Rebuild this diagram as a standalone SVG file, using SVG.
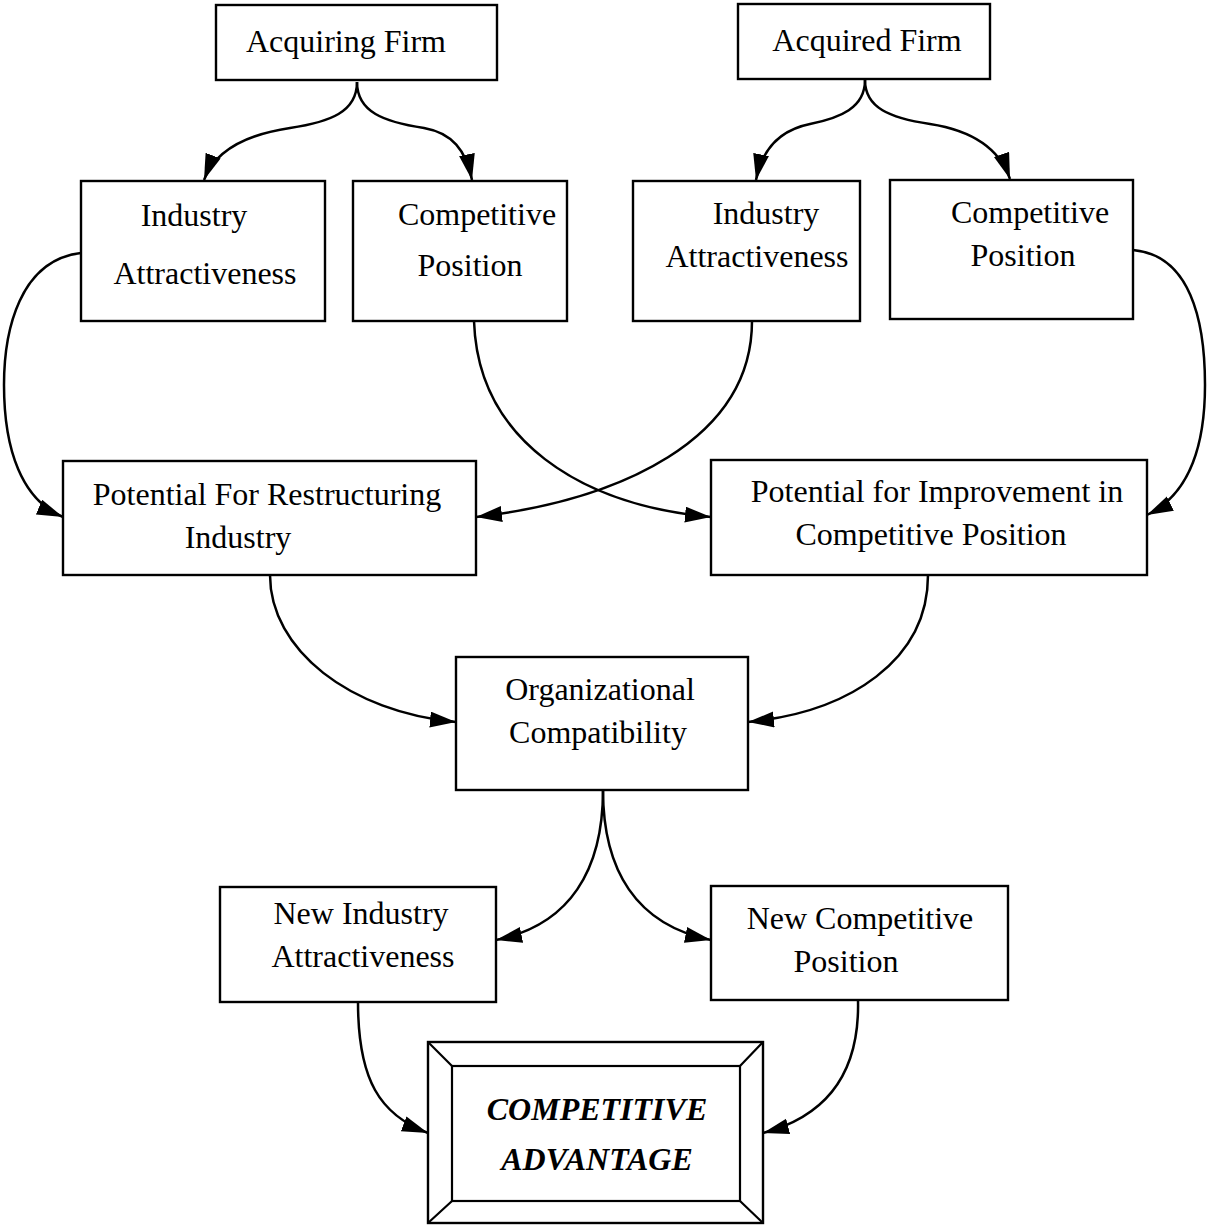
<svg xmlns="http://www.w3.org/2000/svg" width="1208" height="1226" viewBox="0 0 1208 1226">
<style>
.box{fill:#fff;stroke:#000;stroke-width:2.4}
.t{font-family:"Liberation Serif","Times New Roman",serif;font-size:32px;fill:#000;text-anchor:middle}
.b{font-weight:bold;font-style:italic}
.c{fill:none;stroke:#000;stroke-width:2.5}
.f{fill:none;stroke:#000;stroke-width:2.2}
</style>
<defs>
<marker id="ah" markerUnits="userSpaceOnUse" markerWidth="28" markerHeight="18" refX="26" refY="8" orient="auto">
<path d="M0,0 L26,8 L0,16 z" fill="#000"/>
</marker>
</defs>
<rect width="1208" height="1226" fill="#fff"/>
<g id="connectors">
<path class="c" marker-end="url(#ah)" d="M357,82 C357,112 330,122 290,128 C250,134 216,148 204,180"/>
<path class="c" marker-end="url(#ah)" d="M357,82 C357,112 384,122 424,128 C452,133 466,150 472,180"/>
<path class="c" marker-end="url(#ah)" d="M865,80 C865,108 840,118 810,124 C780,130 762,150 756,180"/>
<path class="c" marker-end="url(#ah)" d="M865,80 C865,108 890,118 930,124 C975,131 1000,150 1010,179"/>
<path class="c" marker-end="url(#ah)" d="M81,253 C20,260 4,330 4,385 C4,450 22,500 63,517"/>
<path class="c" marker-end="url(#ah)" d="M1133,250 C1190,255 1205,320 1205,385 C1205,450 1188,495 1147,515"/>
<path class="c" marker-end="url(#ah)" d="M474,321 C478,440 580,505 711,517"/>
<path class="c" marker-end="url(#ah)" d="M752,321 C752,440 620,500 476,517"/>
<path class="c" marker-end="url(#ah)" d="M270,575 C270,650 350,712 456,722"/>
<path class="c" marker-end="url(#ah)" d="M928,575 C928,660 850,712 748,722"/>
<path class="c" marker-end="url(#ah)" d="M603,790 C603,870 570,925 496,940"/>
<path class="c" marker-end="url(#ah)" d="M603,790 C603,870 636,925 711,940"/>
<path class="c" marker-end="url(#ah)" d="M358,1002 C358,1080 380,1115 428,1133"/>
<path class="c" marker-end="url(#ah)" d="M858,1000 C860,1080 820,1118 763,1133"/>
</g>
<g id="acquiring-firm">
<rect class="box" x="216" y="5" width="281" height="75"/>
<text class="t" x="346" y="52">Acquiring Firm</text>
</g>
<g id="acquired-firm">
<rect class="box" x="738" y="4" width="252" height="75"/>
<text class="t" x="867" y="51">Acquired Firm</text>
</g>
<g id="industry-attr-left">
<rect class="box" x="81" y="181" width="244" height="140"/>
<text class="t" x="194" y="226">Industry</text>
<text class="t" x="205" y="284">Attractiveness</text>
</g>
<g id="comp-pos-left">
<rect class="box" x="353" y="181" width="214" height="140"/>
<text class="t" x="477" y="225">Competitive</text>
<text class="t" x="470" y="276">Position</text>
</g>
<g id="industry-attr-right">
<rect class="box" x="633" y="181" width="227" height="140"/>
<text class="t" x="766" y="224">Industry</text>
<text class="t" x="757" y="267">Attractiveness</text>
</g>
<g id="comp-pos-right">
<rect class="box" x="890" y="180" width="243" height="139"/>
<text class="t" x="1030" y="223">Competitive</text>
<text class="t" x="1023" y="266">Position</text>
</g>
<g id="potential-restructuring">
<rect class="box" x="63" y="461" width="413" height="114"/>
<text class="t" x="267" y="505">Potential For Restructuring</text>
<text class="t" x="238" y="548">Industry</text>
</g>
<g id="potential-improvement">
<rect class="box" x="711" y="460" width="436" height="115"/>
<text class="t" x="937" y="502">Potential for Improvement in</text>
<text class="t" x="931" y="545">Competitive Position</text>
</g>
<g id="org-compat">
<rect class="box" x="456" y="657" width="292" height="133"/>
<text class="t" x="600" y="700">Organizational</text>
<text class="t" x="598" y="743">Compatibility</text>
</g>
<g id="new-industry-attr">
<rect class="box" x="220" y="887" width="276" height="115"/>
<text class="t" x="361" y="924">New Industry</text>
<text class="t" x="363" y="967">Attractiveness</text>
</g>
<g id="new-comp-pos">
<rect class="box" x="711" y="886" width="297" height="114"/>
<text class="t" x="860" y="929">New Competitive</text>
<text class="t" x="846" y="972">Position</text>
</g>
<g id="competitive-advantage">
<rect class="box" x="428" y="1042" width="335" height="181"/>
<rect class="f" x="452" y="1066" width="288" height="135"/>
<path class="f" d="M428,1042 L452,1066 M763,1042 L740,1066 M428,1223 L452,1201 M763,1223 L740,1201"/>
<text class="t b" x="597" y="1120">COMPETITIVE</text>
<text class="t b" x="597" y="1170">ADVANTAGE</text>
</g>
</svg>
